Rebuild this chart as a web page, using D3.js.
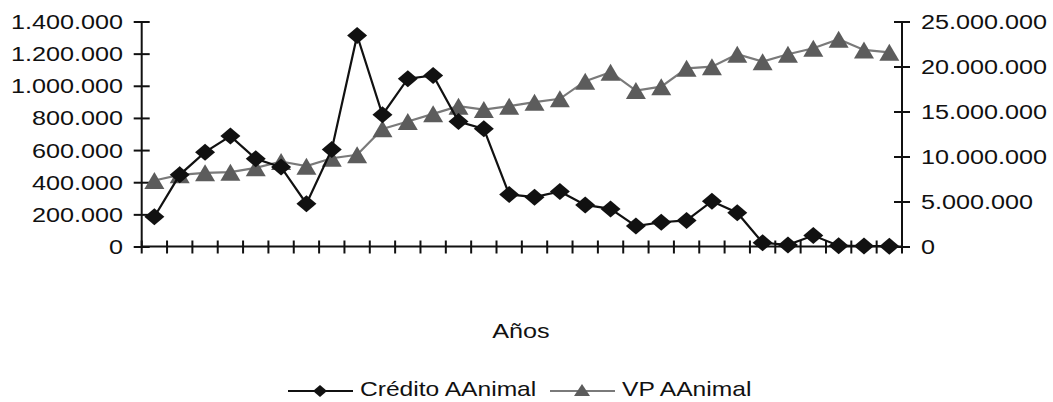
<!DOCTYPE html>
<html><head><meta charset="utf-8">
<script src="https://cdn.jsdelivr.net/npm/d3@7"></script>
<style>
html,body{margin:0;padding:0;background:#fff;}
svg{display:block;}
text{font-family:"Liberation Sans",Arial,sans-serif;fill:#111;}
</style></head>
<body>
<svg id="c" width="1053" height="402"></svg>
<script>
const categories = [1,2,3,4,5,6,7,8,9,10,11,12,13,14,15,16,17,18,19,20,21,22,23,24,25,26,27,28,29,30];
const credito = [185000,446000,587000,687000,546000,494000,266000,604000,1313000,820000,1044000,1064000,778000,732000,324000,307000,342000,259000,234000,127000,151000,162000,282000,210000,23000,10000,68000,5000,3000,2000];
const vp = [7330000,7960000,8190000,8260000,8740000,9440000,8930000,9810000,10190000,13070000,13890000,14740000,15590000,15220000,15590000,16040000,16410000,18370000,19370000,17330000,17760000,19800000,19980000,21360000,20540000,21360000,22030000,23030000,21840000,21580000];
const leftTicks = [0,200000,400000,600000,800000,1000000,1200000,1400000];
const rightTicks = [0,5000000,10000000,15000000,20000000,25000000];
const xTitle = "Años";
const seriesNames = ["Crédito AAnimal","VP AAnimal"];

const SX = 1.2, FS = 21;
const svg = d3.select("#c");
const x0 = 141.7, x1 = 902, yTop = 21.5, yBot = 246.5;
const x = d3.scaleBand().domain(categories).range([x0,x1]).padding(0);
const cx = c => x(c) + x.bandwidth()/2;
const yL = d3.scaleLinear().domain([0,1400000]).range([yBot,yTop]);
const yR = d3.scaleLinear().domain([0,25000000]).range([yBot,yTop]);
const loc = d3.formatLocale({decimal:",",thousands:".",grouping:[3],currency:["",""]});
const fmt = loc.format(",d");

function stretchText(g, str, tx, ty, anchor, size){
  g.append("text").attr("transform",`translate(${tx},${ty}) scale(${SX},1)`)
   .attr("text-anchor",anchor).attr("font-size",size||FS).text(str);
}

// left axis
const gl = svg.append("g").attr("transform",`translate(${x0},0)`)
  .call(d3.axisLeft(yL).tickValues(leftTicks).tickSize(8).tickFormat(""));
gl.select(".domain").remove();
gl.selectAll(".tick line").attr("x1",8).attr("stroke","#111").attr("stroke-width",2);
gl.append("line").attr("y1",yL(1400000)).attr("y2",yL(0)).attr("stroke","#111").attr("stroke-width",2);
leftTicks.forEach(v=>stretchText(svg, fmt(v), 123, yL(v)+7.5, "end"));

// right axis
const gr = svg.append("g").attr("transform",`translate(${x1},0)`)
  .call(d3.axisRight(yR).tickValues(rightTicks).tickSize(8).tickFormat(""));
gr.select(".domain").remove();
gr.selectAll(".tick line").attr("x1",-8).attr("stroke","#111").attr("stroke-width",2);
gr.append("line").attr("y1",yR(25000000)).attr("y2",yR(0)).attr("stroke","#111").attr("stroke-width",2);
rightTicks.forEach(v=>stretchText(svg, fmt(v), 921, yR(v)+7.5, "start"));

// x axis
const bounds = categories.map(c=>x(c)).concat([x1]);
svg.append("line").attr("x1",x0).attr("x2",x1).attr("y1",yBot).attr("y2",yBot).attr("stroke","#111").attr("stroke-width",2);
svg.append("g").selectAll("line").data(bounds).join("line")
  .attr("x1",d=>d).attr("x2",d=>d).attr("y1",yBot-6).attr("y2",yBot+7)
  .attr("stroke","#111").attr("stroke-width",2);

// markers
const diamond = (w,h)=>`M0,${-h}L${w},0L0,${h}L${-w},0Z`;
const tri = (w,h)=>`M0,${-h}L${w},${h}L${-w},${h}Z`;

// VP series (right axis)
const lineR = d3.line().x((d,i)=>cx(categories[i])).y(d=>yR(d));
svg.append("path").attr("d",lineR(vp)).attr("fill","none").attr("stroke","#7a7a7a").attr("stroke-width",2.2);
svg.append("g").selectAll("path").data(vp).join("path")
  .attr("transform",(d,i)=>`translate(${cx(categories[i])},${yR(d)})`)
  .attr("d",tri(10,8.5)).attr("fill","#5c5c5c");

// Credito series (left axis)
const lineL = d3.line().x((d,i)=>cx(categories[i])).y(d=>yL(d));
svg.append("path").attr("d",lineL(credito)).attr("fill","none").attr("stroke","#111").attr("stroke-width",2.2);
svg.append("g").selectAll("path").data(credito).join("path")
  .attr("transform",(d,i)=>`translate(${cx(categories[i])},${yL(d)})`)
  .attr("d",diamond(10,8.5)).attr("fill","#111");

// axis title
stretchText(svg, xTitle, 521, 338, "middle", 21);

// legend
const ly = 391;
svg.append("line").attr("x1",288).attr("x2",353).attr("y1",ly).attr("y2",ly).attr("stroke","#111").attr("stroke-width",2);
svg.append("path").attr("transform",`translate(320,${ly})`).attr("d",diamond(7,6)).attr("fill","#111");
stretchText(svg, seriesNames[0], 360, 396, "start", 20.5);
svg.append("line").attr("x1",550).attr("x2",615).attr("y1",ly).attr("y2",ly).attr("stroke","#7a7a7a").attr("stroke-width",2);
svg.append("path").attr("transform",`translate(582,${ly-1})`).attr("d",tri(8,6)).attr("fill","#5c5c5c");
stretchText(svg, seriesNames[1], 622, 396, "start", 20.5);
</script>
</body></html>
